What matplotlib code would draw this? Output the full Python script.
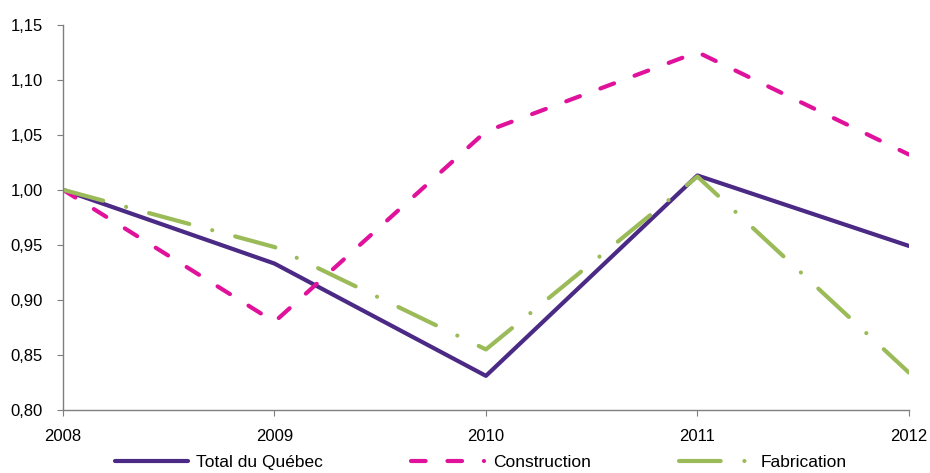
import matplotlib.pyplot as plt
from matplotlib.ticker import FuncFormatter, MultipleLocator

plt.rcParams['font.family'] = ['Liberation Sans', 'DejaVu Sans']

years = ['2008', '2009', '2010', '2011', '2012']
total = [1.000, 0.933, 0.831, 1.013, 0.949]
construction = [1.000, 0.880, 1.053, 1.125, 1.032]
fabrication = [1.000, 0.948, 0.855, 1.012, 0.834]

fig = plt.figure(figsize=(9.3, 4.73), dpi=100)
ax = fig.add_axes([0.0677, 0.1332, 0.9096, 0.8148])

x = range(len(years))
lw = 3
ax.plot(x, total, color='#4B2A85', lw=lw, solid_capstyle='round',
        label='Total du Québec')
ax.plot(x, construction, color='#E0119B', lw=lw,
        linestyle=(0, (3.5, 5.25)), dash_capstyle='round',
        label='Construction')
ax.plot(x, fabrication, color='#9BBB59', lw=lw,
        linestyle=(0, (10, 5.7, 0.01, 5.7)), dash_capstyle='round',
        label='Fabrication')

ax.set_xlim(0, 4)
ax.set_ylim(0.80, 1.15)
ax.set_xticks(list(x))
ax.set_xticklabels(years)
ax.yaxis.set_major_locator(MultipleLocator(0.05))
ax.yaxis.set_major_formatter(FuncFormatter(lambda v, p: f"{v:.2f}".replace('.', ',')))

for side in ['top', 'right']:
    ax.spines[side].set_visible(False)
for side in ['left', 'bottom']:
    ax.spines[side].set_color('#7f7f7f')
    ax.spines[side].set_linewidth(1.0)
ax.tick_params(axis='both', direction='out', length=4.5, color='#7f7f7f',
               labelsize=12, labelcolor='black')
ax.tick_params(axis='x', pad=9)
ax.tick_params(axis='y', pad=10)

fig.legend(loc='lower center', bbox_to_anchor=(0.517, -0.027), ncol=3,
           frameon=False, fontsize=12.5, handlelength=4.2,
           columnspacing=5.08, handletextpad=0.5)

fig.savefig('out.png', dpi=100)
